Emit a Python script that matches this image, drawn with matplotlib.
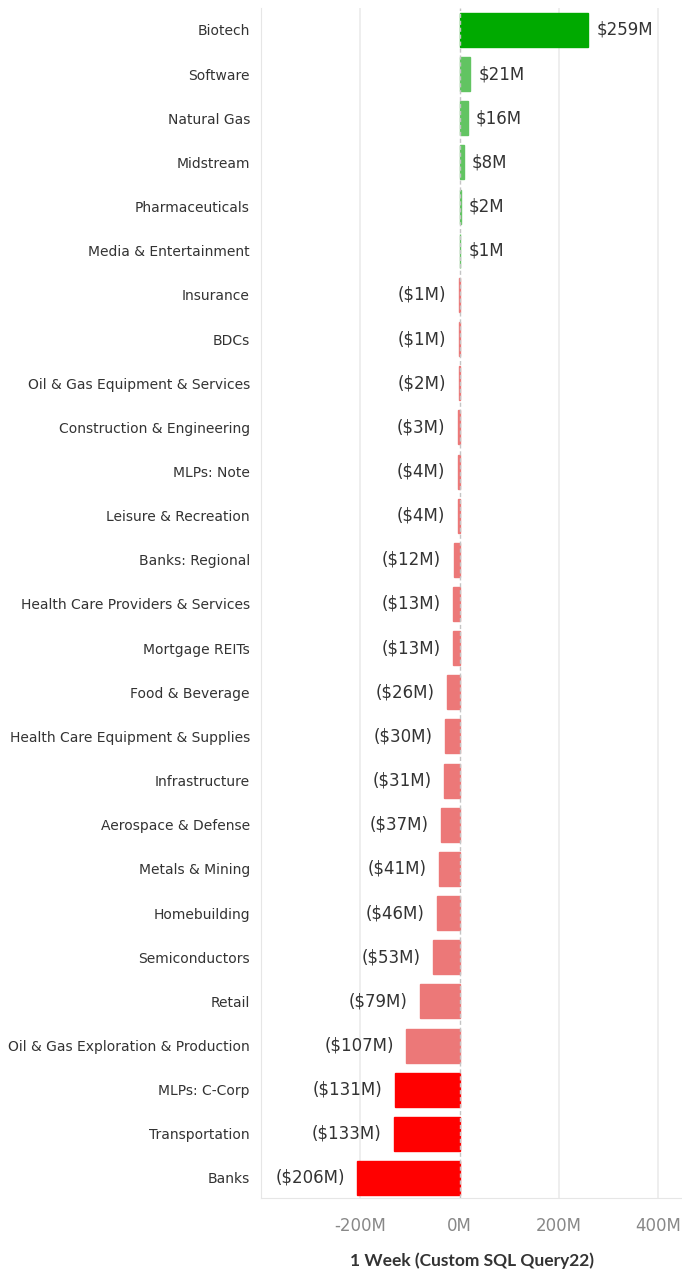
import matplotlib
matplotlib.use("Agg")
import matplotlib.pyplot as plt
from matplotlib.ticker import FuncFormatter

categories = ["Biotech", "Software", "Natural Gas", "Midstream", "Pharmaceuticals",
              "Media & Entertainment", "Insurance", "BDCs", "Oil & Gas Equipment & Services",
              "Construction & Engineering", "MLPs: Note", "Leisure & Recreation",
              "Banks: Regional", "Health Care Providers & Services", "Mortgage REITs",
              "Food & Beverage", "Health Care Equipment & Supplies", "Infrastructure",
              "Aerospace & Defense", "Metals & Mining", "Homebuilding", "Semiconductors",
              "Retail", "Oil & Gas Exploration & Production", "MLPs: C-Corp",
              "Transportation", "Banks"]
values = [259, 21, 16, 8, 2, 1, -1, -1, -2, -3, -4, -4, -12, -13, -13, -26, -30, -31,
          -37, -41, -46, -53, -79, -107, -131, -133, -206]
ticks = [-200, 0, 200, 400]

def color_for(v):
    if v >= 100:
        return "#00AA00"
    if v > 0:
        return "#62C462"
    if v <= -120:
        return "#FF0000"
    return "#EC7878"

fig = plt.figure(figsize=(6.82, 12.73), dpi=100)
ax = fig.add_axes([261/682, 1 - 1198/1273, 1 - 261/682, (1198 - 8)/1273])

y = list(range(len(categories)))
cols = [color_for(v) for v in values]
ax.barh(y, values, height=0.77, color=cols, edgecolor=cols, linewidth=1.0, zorder=3)
ax.set_xlim(-400, 448)
ax.set_ylim(len(categories) - 0.547, -0.498)

for t in [-200, 200, 400]:
    ax.axvline(t, color="#EBEBEB", lw=1.2, zorder=1)
ax.axvline(0, color="#C4C4C4", lw=1, ls=(0, (3, 2)), zorder=4)

for yi, v in zip(y, values):
    if v >= 0:
        ax.annotate(f"${v}M", (v, yi), xytext=(6, 0), textcoords="offset points",
                    ha="left", va="center", fontsize=12, color="#333333")
    else:
        ax.annotate(f"(${-v}M)", (v, yi), xytext=(-9, 0), textcoords="offset points",
                    ha="right", va="center", fontsize=12, color="#333333")

ax.set_yticks(y)
ax.set_yticklabels(categories, fontsize=10, color="#333333")
ax.tick_params(axis="y", length=0, pad=8)
ax.set_xticks(ticks)
ax.xaxis.set_major_formatter(FuncFormatter(lambda x, p: f"{int(x)}M"))
ax.tick_params(axis="x", length=0, labelsize=12, labelcolor="#888888", pad=14)
ax.set_xlabel("1 Week (Custom SQL Query22)", fontsize=12.5, color="#333333",
              family="Lato", fontweight="bold", labelpad=12)

for s in ["top", "right"]:
    ax.spines[s].set_visible(False)
ax.spines["left"].set_color("#E6E6E6")
ax.spines["bottom"].set_color("#E6E6E6")

fig.savefig("out.png", dpi=100)
